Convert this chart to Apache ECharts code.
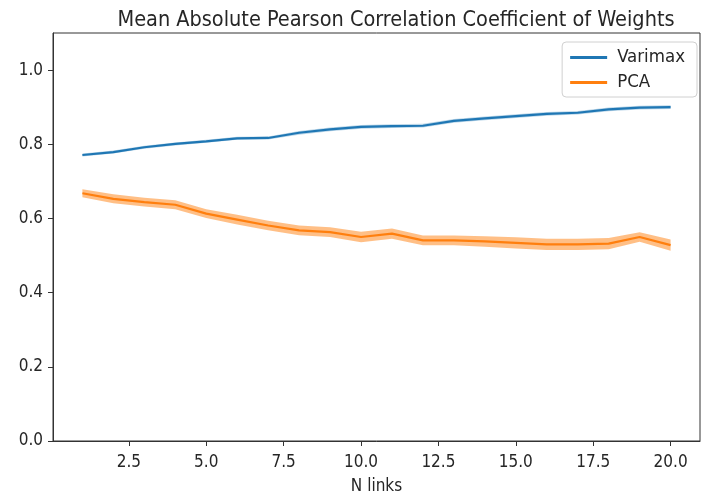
<!DOCTYPE html>
<html>
<head>
<meta charset="utf-8">
<script src="https://cdn.jsdelivr.net/npm/echarts@6/dist/echarts.min.js"></script>
<style>html,body{margin:0;padding:0;background:#fff;}#c{width:701px;height:498px;}</style>
</head>
<body>
<div id="c"></div>
<script>
const nLinks = [1,2,3,4,5,6,7,8,9,10,11,12,13,14,15,16,17,18,19,20];
const varimaxMean = [0.771,0.779,0.792,0.801,0.808,0.816,0.817,0.831,0.840,0.847,0.849,0.850,0.863,0.870,0.876,0.882,0.885,0.894,0.899,0.900];
const varimaxLow  = [0.767,0.775,0.788,0.797,0.804,0.812,0.813,0.826,0.835,0.842,0.844,0.845,0.858,0.865,0.871,0.877,0.880,0.889,0.894,0.895];
const varimaxHigh = [0.775,0.783,0.796,0.805,0.812,0.820,0.821,0.836,0.845,0.852,0.854,0.855,0.868,0.875,0.881,0.887,0.890,0.899,0.904,0.905];
const pcaMean = [0.668,0.653,0.644,0.637,0.613,0.597,0.581,0.568,0.563,0.550,0.559,0.541,0.541,0.538,0.534,0.530,0.530,0.532,0.550,0.528];
const pcaLow  = [0.657,0.641,0.632,0.625,0.601,0.584,0.568,0.555,0.550,0.536,0.545,0.528,0.528,0.524,0.519,0.515,0.515,0.517,0.537,0.513];
const pcaHigh = [0.679,0.665,0.656,0.649,0.625,0.610,0.594,0.581,0.576,0.564,0.573,0.554,0.554,0.552,0.549,0.545,0.545,0.547,0.563,0.543];
const xTicks = [2.5,5,7.5,10,12.5,15,17.5,20];
const yTicks = [0,0.2,0.4,0.6,0.8,1.0];

const pairs = (ys) => nLinks.map((x,i)=>[x, ys[i]]);
const BLUE = '#1f77b4', ORANGE = '#ff7f0e';
const font = 'DejaVu Sans Condensed, DejaVu Sans';
const txt = '#262626';

function band(lo, hi, color, op){
  return {
    type:'custom', silent:true, z:1, clip:true,
    data: nLinks.map((x,i)=>[x, lo[i], hi[i]]),
    encode:{x:0, y:[1,2]},
    renderItem:(params, api)=>{
      if (params.dataIndex !== 0) return null;
      const top = nLinks.map((x,i)=>api.coord([x, hi[i]]));
      const bot = nLinks.map((x,i)=>api.coord([x, lo[i]])).reverse();
      return {type:'polygon', shape:{points: top.concat(bot)}, style:{fill:color, opacity:op}};
    }
  };
}

const chart = echarts.init(document.getElementById('c'), null, {renderer:'canvas'});
chart.setOption({
  animation:false,
  backgroundColor:'#fff',
  title:{text:'Mean Absolute Pearson Correlation Coefficient of Weights', left:391, textAlign:'center', top:4,
    textStyle:{fontFamily:font, fontSize:21.5, fontWeight:'normal', color:txt}},
  grid:{left:53, right:1, top:33, bottom:57, show:true, borderColor:'#333', borderWidth:1, backgroundColor:'transparent',
    containLabel:false, outerBoundsMode:'none'},
  legend:{data:['Varimax','PCA'], orient:'vertical', right:4, top:42, backgroundColor:'#fff', borderColor:'#d0d0d0', borderWidth:1, borderRadius:4,
    padding:[6,12,5,8], itemGap:6, itemWidth:37, itemHeight:3, icon:'rect',
    textStyle:{fontFamily:font, fontSize:18.5, color:txt, padding:[0,0,0,5]}},
  xAxis:{type:'value', min:0.05, max:20.95, name:'N links', nameLocation:'middle', nameGap:37,
    nameTextStyle:{fontFamily:font, fontSize:17, color:txt},
    axisLine:{show:true, lineStyle:{color:'#333', width:1}},
    axisTick:{show:true, length:5, customValues:xTicks, lineStyle:{color:'#333'}},
    axisLabel:{customValues:xTicks, fontFamily:font, fontSize:17, color:txt, margin:13, formatter:(v)=>v.toFixed(1)},
    splitLine:{show:false}},
  yAxis:{type:'value', min:0, max:1.1,
    axisLine:{show:true, lineStyle:{color:'#333', width:1}},
    axisTick:{show:true, length:5, customValues:yTicks, lineStyle:{color:'#333'}},
    axisLabel:{customValues:yTicks, fontFamily:font, fontSize:17, color:txt, margin:10, formatter:(v)=>v.toFixed(1)},
    splitLine:{show:false}},
  series:[
    band(varimaxLow, varimaxHigh, BLUE, 0.3),
    band(pcaLow, pcaHigh, ORANGE, 0.5),
    {name:'Varimax', type:'line', data:pairs(varimaxMean), symbol:'none', color:BLUE, lineStyle:{color:BLUE, width:2.2}, z:3},
    {name:'PCA', type:'line', data:pairs(pcaMean), symbol:'none', color:ORANGE, lineStyle:{color:ORANGE, width:2.2}, z:3}
  ]
});
</script>
</body>
</html>
